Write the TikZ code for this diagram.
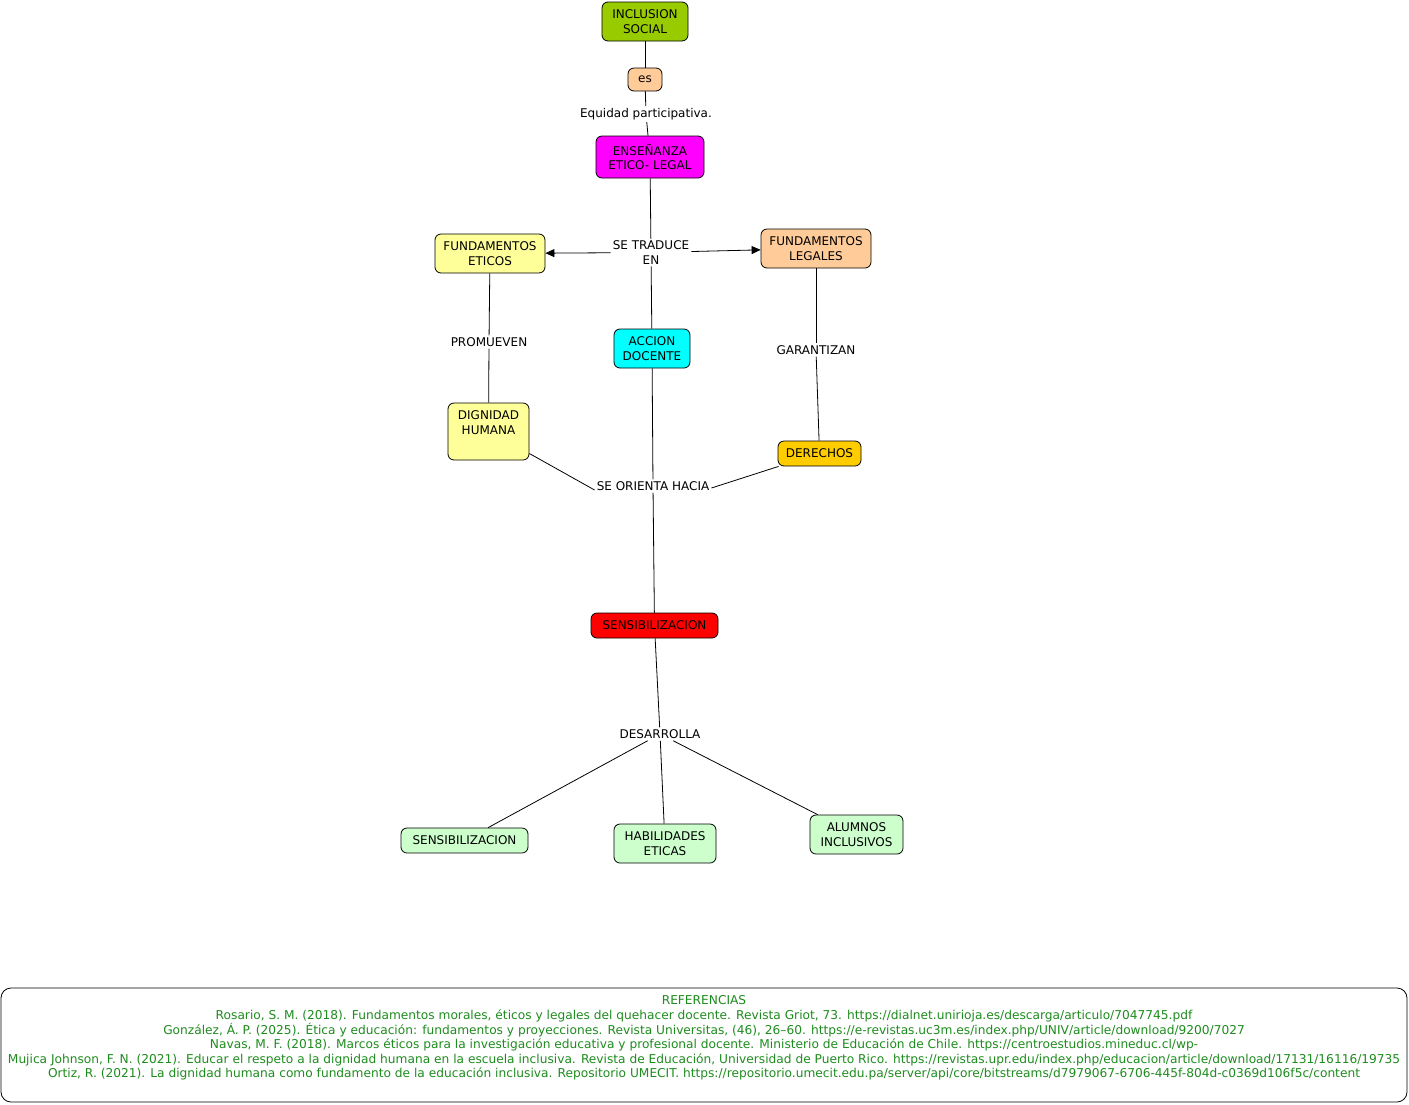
\documentclass[tikz,border=0pt]{standalone}
\usepackage{fontspec}
\setmainfont{DejaVu Sans}
\usetikzlibrary{positioning,arrows.meta}
\definecolor{inclgreen}{HTML}{99CC00}
\definecolor{peach}{HTML}{FFCC99}
\definecolor{magentabox}{HTML}{FF00FF}
\definecolor{paleyellow}{HTML}{FFFF99}
\definecolor{cyanbox}{HTML}{00FFFF}
\definecolor{goldbox}{HTML}{FFCC00}
\definecolor{redbox}{HTML}{FF0000}
\definecolor{mint}{HTML}{CCFFCC}
\definecolor{refgreen}{HTML}{1E8C1E}
\newcommand{\mapfont}{\fontsize{12}{14.5}\selectfont}
\newcommand{\reffont}{\fontsize{12.2}{14.6}\selectfont}
\tikzset{
  concept/.style={draw, rounded corners=6pt, line width=0.8pt, font=\mapfont, align=center, inner sep=0pt},
  linkphrase/.style={font=\mapfont, align=center, inner sep=2pt},
  linkline/.style={line width=0.8pt},
  linkarrow/.style={-{Triangle[length=9pt, width=8pt]}, line width=0.8pt},
  refbox/.style={draw, rounded corners=10pt, line width=0.8pt, fill=white, minimum width=1406pt, minimum height=114pt},
  reftext/.style={font=\reffont, text=refgreen, align=center, inner sep=0pt}
}

\begin{document}
\begin{tikzpicture}[x=1pt, y=-1pt]
  \useasboundingbox (0,0) rectangle (1409,1104);
  \node[concept, fill=inclgreen, minimum width=86pt, minimum height=39pt] (incl) at (645,21.5) {INCLUSION\\SOCIAL};
  \node[concept, fill=peach, minimum width=34pt, minimum height=23pt] (es) at (645,79.5) {es};
  \node[linkphrase] (equidad) at (646,114) {Equidad participativa.};
  \node[concept, fill=magentabox, minimum width=108pt, minimum height=42pt] (ense) at (650,157) {ENSEÑANZA\\ETICO- LEGAL};
  \node[linkphrase] (traduce) at (651,252.5) {SE TRADUCE\\EN};
  \node[concept, fill=paleyellow, minimum width=110pt, minimum height=39pt] (feticos) at (490,253.5) {FUNDAMENTOS\\ETICOS};
  \node[concept, fill=peach, minimum width=110pt, minimum height=39pt] (flegales) at (816,248.5) {FUNDAMENTOS\\LEGALES};
  \node[concept, fill=cyanbox, minimum width=76pt, minimum height=39pt] (accion) at (652,348.5) {ACCION\\DOCENTE};
  \node[linkphrase] (promueven) at (489,342) {PROMUEVEN};
  \node[linkphrase] (garantizan) at (816,350) {GARANTIZAN};
  \node[concept, fill=paleyellow, minimum width=81pt, minimum height=57pt, text depth=18pt] (dignidad) at (488.5,431.5) {DIGNIDAD\\HUMANA};
  \node[concept, fill=goldbox, minimum width=83pt, minimum height=25pt] (derechos) at (819.5,453.5) {DERECHOS};
  \node[linkphrase] (orienta) at (653,486) {SE ORIENTA HACIA};
  \node[concept, fill=redbox, minimum width=127pt, minimum height=25pt] (sensred) at (654.5,625.5) {SENSIBILIZACION};
  \node[linkphrase] (desarrolla) at (660,734) {DESARROLLA};
  \node[concept, fill=mint, minimum width=127pt, minimum height=25pt] (sensgreen) at (464.5,840.5) {SENSIBILIZACION};
  \node[concept, fill=mint, minimum width=102pt, minimum height=39pt] (habil) at (665,843.5) {HABILIDADES\\ETICAS};
  \node[concept, fill=mint, minimum width=93pt, minimum height=39pt] (alumnos) at (856.5,834.5) {ALUMNOS\\INCLUSIVOS};
  \node[refbox] (refs) at (704,1045) {};
  \node[reftext, anchor=north] (reflist) at ([yshift=-8pt]refs.north) {REFERENCIAS\\
    Rosario, S. M. (2018). Fundamentos morales, éticos y legales del quehacer docente. Revista Griot, 73. https://dialnet.unirioja.es/descarga/articulo/7047745.pdf\\
    González, Á. P. (2025). Ética y educación: fundamentos y proyecciones. Revista Universitas, (46), 26–60. https://e-revistas.uc3m.es/index.php/UNIV/article/download/9200/7027\\
    Navas, M. F. (2018). Marcos éticos para la investigación educativa y profesional docente. Ministerio de Educación de Chile. https://centroestudios.mineduc.cl/wp-\\
    Mujica Johnson, F. N. (2021). Educar el respeto a la dignidad humana en la escuela inclusiva. Revista de Educación, Universidad de Puerto Rico. https://revistas.upr.edu/index.php/educacion/article/download/17131/16116/19735\\
    Ortiz, R. (2021). La dignidad humana como fundamento de la educación inclusiva. Repositorio UMECIT. https://repositorio.umecit.edu.pa/server/api/core/bitstreams/d7979067-6706-445f-804d-c0369d106f5c/content};
  \draw[linkline] (incl) -- (es);
  \draw[linkline] (es) -- (equidad);
  \draw[linkline] (equidad) -- (ense);
  \draw[linkline] (ense) -- (traduce);
  \draw[linkarrow] (traduce) -- (feticos);
  \draw[linkarrow] (traduce) -- (flegales);
  \draw[linkline] (traduce) -- (accion);
  \draw[linkline] (feticos) -- (promueven);
  \draw[linkline] (promueven) -- (dignidad);
  \draw[linkline] (flegales) -- (garantizan);
  \draw[linkline] (garantizan) -- (derechos);
  \draw[linkline] ([yshift=-22pt]dignidad.east) -- ([yshift=-4pt]orienta.west);
  \draw[linkline] ([xshift=1pt]derechos.south west) -- ([yshift=-2pt]orienta.east);
  \draw[linkline] (accion) -- (orienta);
  \draw[linkline] (orienta) -- (sensred);
  \draw[linkline] (sensred) -- (desarrolla);
  \draw[linkline] (desarrolla) -- (sensgreen);
  \draw[linkline] (desarrolla) -- (habil);
  \draw[linkline] (desarrolla) -- (alumnos);
\end{tikzpicture}
\end{document}
